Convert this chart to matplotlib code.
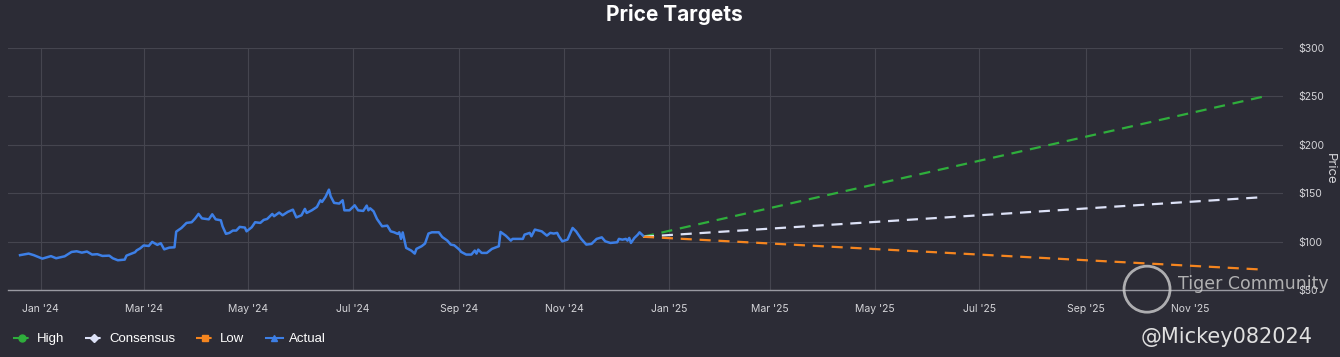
import numpy as np
import pandas as pd
import matplotlib
matplotlib.use("Agg")
import matplotlib.pyplot as plt
import matplotlib.dates as mdates
from matplotlib.lines import Line2D
from matplotlib.patches import Ellipse

# actual closing prices
actual_dates = [
    "2023-12-20", "2023-12-25", "2023-12-28", "2024-01-02", "2024-01-07", "2024-01-10",
    "2024-01-15", "2024-01-19", "2024-01-22", "2024-01-25", "2024-01-28", "2024-01-31",
    "2024-02-03", "2024-02-06", "2024-02-10", "2024-02-12", "2024-02-15", "2024-02-19",
    "2024-02-20", "2024-02-25", "2024-02-26", "2024-02-28", "2024-03-01", "2024-03-04",
    "2024-03-06", "2024-03-09", "2024-03-11", "2024-03-13", "2024-03-16", "2024-03-19",
    "2024-03-20", "2024-03-23", "2024-03-26", "2024-03-29", "2024-03-31", "2024-04-02",
    "2024-04-04", "2024-04-08", "2024-04-10", "2024-04-12", "2024-04-15", "2024-04-16",
    "2024-04-18", "2024-04-20", "2024-04-22", "2024-04-24", "2024-04-26", "2024-04-29",
    "2024-04-30", "2024-05-03", "2024-05-05", "2024-05-08", "2024-05-10", "2024-05-12",
    "2024-05-15", "2024-05-16", "2024-05-19", "2024-05-21", "2024-05-24", "2024-05-27",
    "2024-05-29", "2024-06-01", "2024-06-03", "2024-06-04", "2024-06-07", "2024-06-10",
    "2024-06-12", "2024-06-13", "2024-06-15", "2024-06-17", "2024-06-18", "2024-06-20",
    "2024-06-23", "2024-06-25", "2024-06-26", "2024-06-29", "2024-07-02", "2024-07-04",
    "2024-07-07", "2024-07-09", "2024-07-10", "2024-07-11", "2024-07-13", "2024-07-15",
    "2024-07-18", "2024-07-21", "2024-07-23", "2024-07-25", "2024-07-27", "2024-07-28",
    "2024-07-29", "2024-07-30", "2024-08-01", "2024-08-04", "2024-08-06", "2024-08-07",
    "2024-08-10", "2024-08-12", "2024-08-14", "2024-08-16", "2024-08-20", "2024-08-22",
    "2024-08-25", "2024-08-27", "2024-08-29", "2024-09-01", "2024-09-02", "2024-09-05",
    "2024-09-08", "2024-09-10", "2024-09-11", "2024-09-12", "2024-09-14", "2024-09-17",
    "2024-09-20", "2024-09-24", "2024-09-25", "2024-09-28", "2024-10-01", "2024-10-02",
    "2024-10-05", "2024-10-08", "2024-10-09", "2024-10-12", "2024-10-13", "2024-10-15",
    "2024-10-19", "2024-10-22", "2024-10-24", "2024-10-26", "2024-10-28", "2024-10-29",
    "2024-10-31", "2024-11-03", "2024-11-06", "2024-11-08", "2024-11-11", "2024-11-14",
    "2024-11-17", "2024-11-20", "2024-11-23", "2024-11-25", "2024-11-28", "2024-12-02",
    "2024-12-03", "2024-12-05", "2024-12-07", "2024-12-08", "2024-12-09", "2024-12-10",
    "2024-12-12", "2024-12-14", "2024-12-15", "2024-12-17",
]
actual_prices = [
    86.0, 87.6, 86.0, 82.4, 85.0, 82.8,
    84.8, 89.3, 90.0, 88.6, 89.7, 86.6,
    87.0, 85.2, 85.5, 82.8, 80.7, 81.4,
    85.5, 89.0, 91.0, 93.0, 96.0, 95.5,
    99.7, 96.6, 98.3, 92.0, 93.8, 94.1,
    110.3, 114.0, 119.3, 120.0, 123.8, 128.6,
    124.0, 123.0, 128.2, 123.0, 122.0, 115.8,
    108.0, 109.0, 111.4, 111.4, 115.2, 114.5,
    110.6, 114.8, 120.0, 119.3, 122.4, 123.4,
    128.6, 126.2, 130.0, 127.2, 130.7, 133.0,
    125.0, 127.2, 133.8, 129.6, 132.3, 135.8,
    142.7, 141.0, 146.2, 153.7, 146.8, 140.0,
    139.3, 142.7, 132.3, 132.3, 137.5, 132.3,
    131.7, 137.2, 132.3, 134.4, 131.3, 123.4,
    115.8, 116.5, 110.6, 109.6, 108.0, 109.6,
    102.8, 109.5, 93.5, 90.7, 87.6, 92.5,
    95.2, 98.0, 108.3, 109.6, 109.6, 104.8,
    101.0, 96.9, 96.2, 91.7, 89.4, 86.6,
    86.6, 90.7, 87.6, 91.7, 88.3, 88.3,
    92.5, 95.2, 110.0, 106.2, 101.0, 102.8,
    102.8, 102.8, 107.2, 109.0, 105.5, 112.4,
    110.6, 106.2, 109.0, 108.3, 109.0, 105.5,
    100.3, 102.0, 114.1, 110.6, 102.8, 96.9,
    97.6, 102.8, 104.4, 100.3, 98.6, 99.3,
    102.8, 102.0, 102.8, 101.0, 103.8, 98.6,
    103.8, 107.2, 109.6, 106.2,
]

# 12-month price targets
target_dates = ["2024-12-17", "2025-12-14"]
high_target = [105, 250]
consensus_target = [105, 146]
low_target = [105, 71]

tick_dates = pd.date_range("2024-01-01", "2025-11-01", freq="2MS")
y_ticks = [50, 100, 150, 200, 250, 300]

bg = "#2c2c36"
grid_c = "#45454f"
text_c = "#d4d4d8"
c_high = "#2fae3c"
c_cons = "#dde2f7"
c_low = "#f5851f"
c_act = "#3d7fe6"

fig = plt.figure(figsize=(13.4, 3.57), dpi=100, facecolor=bg)
ax = fig.add_axes([0.006, 0.1877, 0.9515, 0.6778], facecolor=bg)

ad = pd.to_datetime(actual_dates)
td = pd.to_datetime(target_dates)

ax.plot(td, high_target, color=c_high, lw=1.6, ls=(0, (5, 3.5)))
ax.plot(td, consensus_target, color=c_cons, lw=1.6, ls=(0, (5, 3.5)))
ax.plot(td, low_target, color=c_low, lw=1.6, ls=(0, (5, 3.5)))
ax.plot(ad, actual_prices, color=c_act, lw=1.8)

ax.set_xlim(pd.Timestamp("2023-12-13"), pd.Timestamp("2025-12-25"))
ax.set_ylim(50, 300)
ax.set_xticks(tick_dates)
ax.xaxis.set_major_formatter(mdates.DateFormatter("%b '%y"))
ax.set_yticks(y_ticks)
ax.set_yticklabels(["$%d" % v for v in y_ticks])
ax.yaxis.tick_right()
ax.yaxis.set_label_position("right")
ax.set_ylabel("Price", rotation=270, color=text_c, fontsize=9.5, labelpad=8,
              family="Inter")

ax.grid(True, color=grid_c, lw=0.8)
ax.set_axisbelow(True)
for s in ["top", "left", "right"]:
    ax.spines[s].set_visible(False)
ax.spines["bottom"].set_color("#9a9aa2")
ax.spines["bottom"].set_linewidth(1.0)
ax.tick_params(axis="both", length=0, colors=text_c, labelsize=7.5)
ax.tick_params(axis="x", pad=10)
ax.tick_params(axis="y", pad=11)
for lab in ax.get_xticklabels() + ax.get_yticklabels():
    lab.set_family("Inter")

fig.text(0.503, 0.96, "Price Targets", ha="center", va="center", color="white",
         fontsize=15, fontweight="bold", family="Inter")

handles = [
    Line2D([], [], color=c_high, marker="o", ms=5, lw=1.5, ls=(0, (3, 1.5))),
    Line2D([], [], color=c_cons, marker="D", ms=4, lw=1.5, ls=(0, (3, 1.5))),
    Line2D([], [], color=c_low, marker="s", ms=5, lw=1.5, ls=(0, (3, 1.5))),
    Line2D([], [], color=c_act, marker="^", ms=5, lw=1.5),
]
leg = fig.legend(handles, ["High", "Consensus", "Low", "Actual"], loc="center left",
                 bbox_to_anchor=(0.001, 0.05), ncol=4, frameon=False,
                 handlelength=1.3, handletextpad=0.5, columnspacing=1.6,
                 prop={"family": "Liberation Sans", "size": 9.5})
for t in leg.get_texts():
    t.set_color("white")

# watermark
fig.patches.append(Ellipse((0.856, 0.19), 46 / 1340, 46 / 357, transform=fig.transFigure,
                           fill=False, ec="#cfcfcf", lw=2, alpha=0.8))
fig.text(0.879, 0.205, "Tiger Community", color="#c8c8c8", fontsize=12.5, alpha=0.85,
         family="DejaVu Sans", va="center")
fig.text(0.851, 0.055, "@Mickey082024", color="#e0e0e0", fontsize=15,
         family="DejaVu Sans", va="center")

fig.savefig("out.png", dpi=100, facecolor=bg)
